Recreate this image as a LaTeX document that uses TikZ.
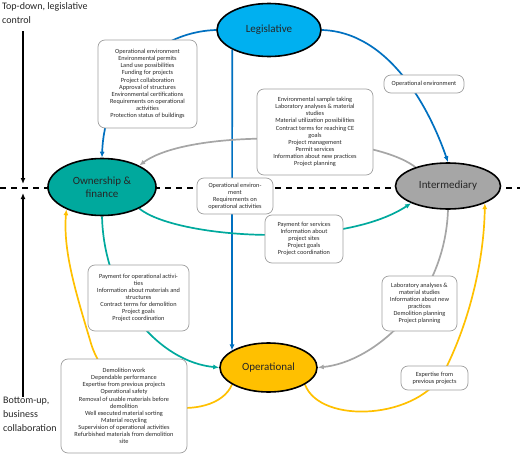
\documentclass[tikz,border=0pt]{standalone}
\usepackage{fontspec}
\setmainfont{Carlito}
\usetikzlibrary{arrows.meta,shapes.geometric}

\definecolor{legblue}{HTML}{00B0F0}
\definecolor{lineblue}{HTML}{0070C0}
\definecolor{ownteal}{HTML}{00A99D}
\definecolor{intgray}{HTML}{A6A6A6}
\definecolor{opgold}{HTML}{FFC000}
\definecolor{boxedge}{HTML}{A0A0A0}
\definecolor{boxtext}{HTML}{2A2A2A}

\pgfdeclarelayer{back}
\pgfsetlayers{back,main}

\begin{document}
\begin{tikzpicture}[
  x=1pt, y=-1pt,
  actor/.style={ellipse, draw=black, line width=1.6pt, inner sep=0pt,
    align=center, font=\fontsize{11}{13.5}\selectfont, text=black!85},
  infobox/.style={draw=boxedge, line width=0.7pt, rounded corners=7pt,
    fill=white, align=center, inner sep=1.5pt,
    font=\fontsize{6.3}{7.1}\selectfont, text=boxtext},
  sidelabel/.style={anchor=north west, align=left, inner sep=0pt,
    font=\fontsize{10}{14}\selectfont, text=black!85},
  flow/.style={line width=1.7pt, -{Latex[length=6pt,width=5pt]}},
  axis/.style={line width=1.8pt, black, -{Latex[length=6pt,width=5pt]}}
]
\useasboundingbox (0,0) rectangle (520,455);

% the four actors
\node[actor, fill=legblue, minimum width=104pt, minimum height=53pt] (leg) at (269,30) {Legislative};
\node[actor, fill=ownteal, minimum width=108pt, minimum height=57pt] (own) at (102,187) {Ownership \&\\finance};
\node[actor, fill=intgray, minimum width=105pt, minimum height=46pt] (inter) at (448,186) {Intermediary};
\node[actor, fill=opgold, minimum width=97pt, minimum height=49pt] (oper) at (268.5,367.5) {Operational};

% side labels and the two control directions
\node[sidelabel] (topdown) at (2,2) {Top-down, legislative\\control};
\node[sidelabel] (bottomup) at (3,397) {Bottom-up,\\business\\collaboration};
\coordinate (tdstart) at (23,31);
\coordinate (tdend) at (23,184);
\coordinate (bustart) at (23,397);
\coordinate (buend) at (23,193);
\coordinate (dashl) at (0,188);
\coordinate (dashr) at (520,188);

% flow contents
\node[infobox, minimum width=99pt, minimum height=88pt] (permits) at (147.5,84)
  {Operational environment\\Environmental permits\\Land use possibilities\\
   Funding for projects\\Project collaboration\\Approval of structures\\
   Environmental certifications\\Requirements on operational\\activities\\
   Protection status of buildings};
\node[infobox, minimum width=80pt, minimum height=18pt] (openv) at (424,84)
  {Operational environment};
\node[infobox, minimum width=116pt, minimum height=86pt] (services) at (315,132)
  {Environmental sample taking\\Laboratory analyses \& material\\studies\\
   Material utilization possibilities\\Contract terms for reaching CE\\goals\\
   Project management\\Permit services\\Information about new practices\\
   Project planning};
\node[infobox, minimum width=76pt, minimum height=36pt] (reqs) at (235,196)
  {Operational environ-\\ment\\Requirements on\\operational activities};
\node[infobox, minimum width=78pt, minimum height=48pt] (paysrv) at (304,239)
  {Payment for services\\Information about\\project sites\\Project goals\\
   Project coordination};
\node[infobox, minimum width=101pt, minimum height=66pt] (payop) at (138.5,298)
  {Payment for operational activi-\\ties\\Information about materials and\\
   structures\\Contract terms for demolition\\Project goals\\Project coordination};
\node[infobox, minimum width=126pt, minimum height=94pt] (demo) at (124,406)
  {Demolition work\\Dependable performance\\Expertise from previous projects\\
   Operational safety\\Removal of usable materials before\\demolition\\
   Well executed material sorting\\Material recycling\\
   Supervision of operational activities\\Refurbished materials from demolition\\site};
\node[infobox, minimum width=75pt, minimum height=55pt] (labs) at (419.5,303.5)
  {Laboratory analyses \&\\material studies\\Information about new\\practices\\
   Demolition planning\\Project planning};
\node[infobox, minimum width=67pt, minimum height=24pt] (expert) at (434.5,378)
  {Expertise from\\previous projects};

\begin{pgfonlayer}{back}
  % split between the two regimes
  \draw[line width=2.2pt, dash pattern=on 6pt off 5pt] (dashl) -- (dashr);
  \draw[axis] (tdstart) -- (tdend);
  \draw[axis] (bustart) -- (buend);

  % legislative
  \draw[flow, lineblue] (leg.west) .. controls (150,32) and (104,90) .. (own.north);
  \draw[flow, lineblue] (leg.east) .. controls (390,32) and (430,110) .. (inter.north);
  \draw[flow, lineblue] (leg.208) -- (oper.155);

  % ownership & finance
  \draw[flow, ownteal] (own.-30) .. controls (175,238) and (340,250) .. (inter.205);
  \draw[flow, ownteal] (own.south) .. controls (104,300) and (160,362) .. (oper.west);

  % intermediary
  \draw[flow, intgray] (inter.150) .. controls (370,132) and (190,128) .. (own.30);
  \draw[flow, intgray] (inter.south) .. controls (445,300) and (375,362) .. (oper.east);

  % operational
  \draw[flow, opgold] (oper.205) .. controls (215,425) and (110,415) .. (90,340)
    .. controls (75,290) and (63,250) .. (own.212);
  \draw[flow, opgold] (oper.335) .. controls (320,425) and (420,420) .. (445,370)
    .. controls (470,320) and (484,260) .. (inter.335);
\end{pgfonlayer}

\end{tikzpicture}
\end{document}
